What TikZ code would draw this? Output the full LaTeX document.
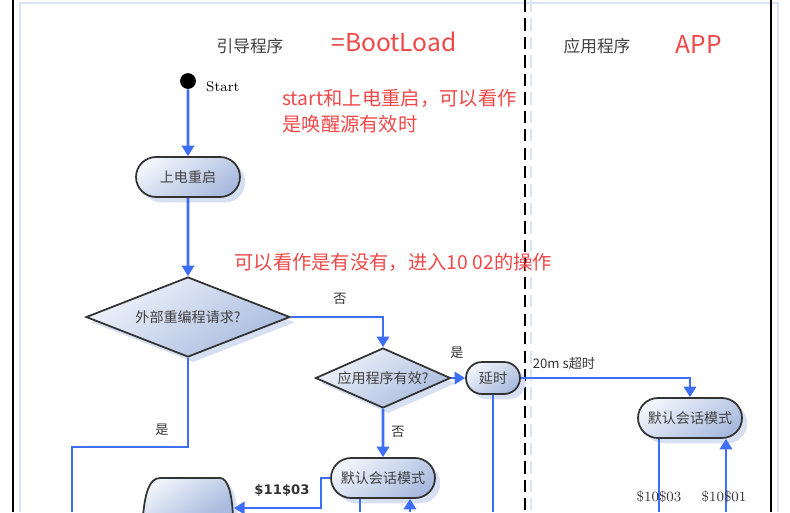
\documentclass[tikz,border=0pt]{standalone}
\usepackage{fontspec}
\newfontfamily\cjk{Noto Sans CJK SC}
\newfontfamily\lbl{DejaVu Sans}
\usetikzlibrary{shapes.geometric,shapes.misc,shadows,arrows.meta}
\definecolor{flowblue}{RGB}{61,110,245}
\definecolor{notered}{RGB}{240,72,72}
\definecolor{nodetop}{RGB}{240,244,251}
\definecolor{nodebot}{RGB}{168,186,222}
\definecolor{shadowblue}{RGB}{214,224,242}
\definecolor{frameblue}{RGB}{218,228,246}

\begin{document}
\begin{tikzpicture}[x=0.02cm,y=-0.02cm,
	body/.style={draw=black!80,line width=1pt,top color=nodetop,bottom color=nodebot,shading angle=35,drop shadow={shadow xshift=3pt,shadow yshift=-3pt,fill=shadowblue,opacity=1}},
	state/.style={body,rounded rectangle,inner sep=0pt,font=\cjk\fontsize{8}{9}\selectfont,text=black!75},
	decision/.style={body,diamond,inner sep=0pt,font=\cjk\fontsize{8}{9}\selectfont,text=black!75},
	flow/.style={flowblue,line width=1.5pt},
	arrow/.style={flow,-{Triangle[length=6pt,width=7pt]}},
	lane/.style={font=\cjk\fontsize{9.5}{11}\selectfont,text=black!75},
	note/.style={font=\cjk\fontsize{11}{15}\selectfont,text=notered,align=left,anchor=west,inner sep=0pt},
	big/.style={font=\cjk\fontsize{14}{16}\selectfont,text=notered},
	cond/.style={font=\cjk\fontsize{7.5}{9}\selectfont,text=black!80},
	code/.style={font=\lbl\bfseries\fontsize{7.5}{9}\selectfont,text=black!80},
	]
	\path[use as bounding box,clip] (0,0) rectangle (790,512);

	% frame and lanes
	\draw[frameblue,line width=1.4pt]	(20,512) -- (20,3) -- (778,3) -- (778,512);
	\draw[line width=1.7pt]		(13,0) -- (13,512);
	\draw[line width=1.2pt]		(771,0) -- (771,512);
	\draw[line width=1.3pt,dash pattern=on 7pt off 3.5pt]	(525,0) -- (525,512);
	\draw[frameblue,line width=1pt,dash pattern=on 7pt off 3.5pt]	(531,0) -- (531,512);

	\node[lane] (bootlane) at (250,46) {引导程序};
	\node[big] (bootname) at (394,42) {=BootLoad};
	\node[lane] (applane) at (597,46) {应用程序};
	\node[big] (appname) at (699,44) {APP};

	\node[note] (wakenote) at (282,111) {start和上电重启，可以看作\\是唤醒源有效时};
	\node[note] (reqnote) at (234,262) {可以看作是有没有，进入10 02的操作};

	% states
	\node[circle,fill=black,inner sep=0pt,minimum size=9pt] (start) at (188,81) {};
	\node[font=\fontsize{8}{9}\selectfont,anchor=west] (startlbl) at (200,87) {Start};
	\node[state,minimum width=2.08cm,minimum height=0.8cm] (reset) at (188,177) {上电重启};
	\node[decision,aspect=2.55,minimum width=4.08cm,minimum height=1.6cm] (ext) at (188,317) {外部重编程请求?};
	\node[decision,aspect=2.25,minimum width=2.7cm,minimum height=1.2cm] (valid) at (383,378) {应用程序有效?};
	\node[state,minimum width=1.08cm,minimum height=0.64cm] (delay) at (493,378) {延时};
	\node[state,minimum width=2.08cm,minimum height=0.8cm] (bootdef) at (383,478) {默认会话模式};
	\node[state,minimum width=2.08cm,minimum height=0.8cm] (appdef) at (690,418) {默认会话模式};
	\path[body] (143,516) .. controls (145,494) and (149,478) .. (160,478) -- (220,478) .. controls (228,478) and (232,494) .. (233,516) -- cycle;
	\coordinate (prog) at (234,508);

	\coordinate (yesend) at (72,512);
	\coordinate (bootout) at (360,512);
	\coordinate (bootin) at (410,512);
	\coordinate (delayout) at (493,512);
	\coordinate (appout) at (659,512);
	\coordinate (appin) at (726,512);

	% connectors
	\draw[arrow]	(start) -- (reset);
	\draw[arrow]	(reset) -- (ext);
	\draw[arrow]	(ext.east) -| (valid.north);
	\draw[flow]	(ext.south) -- ++(0,89) -| (yesend);
	\draw[arrow]	(valid) -- (delay);
	\draw[arrow]	(valid) -- (bootdef);
	\draw[arrow]	(delay.east) -| (appdef.north);
	\draw[flow]	(delay.south) -- (delayout);
	\draw[arrow]	(bootdef.west) -- ++(-9,0) |- (prog);
	\draw[flow]	(bootout |- bootdef.south) -- (bootout);
	\draw[arrow]	(bootin) -- (bootin |- bootdef.south);
	\draw[flow]	(appout |- appdef.south) -- (appout);
	\draw[arrow]	(appin) -- (appin |- appdef.south);

	% labels
	\node[cond] (no1) at (340,299) {否};
	\node[cond] (yes1) at (162,430) {是};
	\node[cond] (yes2) at (457,353) {是};
	\node[cond] (no2) at (398,432) {否};
	\node[cond] (timeout) at (564,363) {20m s超时};
	\node[code] (code1103) at (282,490) {\$11\$03};
	\node[cond,font=\fontsize{8}{9}\selectfont] (code1003) at (659,497) {\$10\$03};
	\node[cond,font=\fontsize{8}{9}\selectfont] (code1001) at (724,497) {\$10\$01};
\end{tikzpicture}
\end{document}
